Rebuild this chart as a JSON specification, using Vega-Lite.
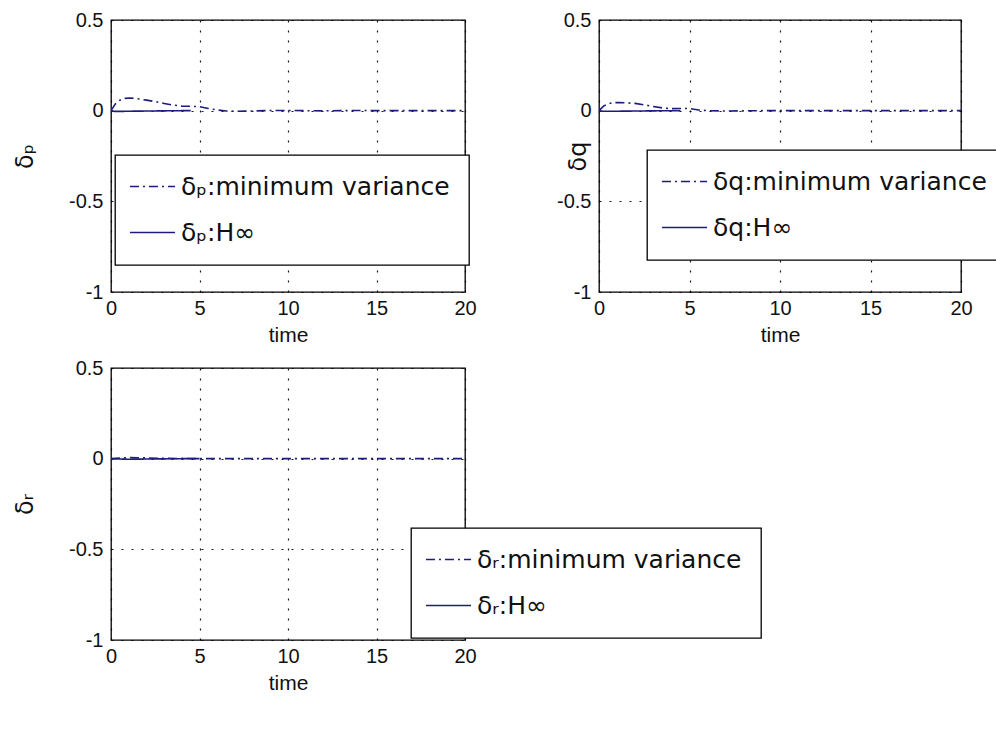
{
  "$schema": "https://vega.github.io/schema/vega-lite/v6.json",
  "background": "white",
  "padding": {"left": 12, "top": 9, "right": 0, "bottom": 0},
  "bounds": "flush",
  "columns": 2,
  "spacing": {"row": 76, "column": 134},
  "config": {
    "font": "DejaVu Sans",
    "view": {"stroke": "#000", "strokeWidth": 1.3},
    "axis": {
      "domain": false,
      "ticks": false,
      "grid": true,
      "gridColor": "#000",
      "gridDash": [2, 8],
      "gridWidth": 1.2,
      "gridOpacity": 0.9,
      "labelFont": "Liberation Sans",
      "labelFontSize": 20,
      "labelColor": "#111",
      "titleFontWeight": "normal",
      "titleColor": "#111"
    },
    "axisX": {"labelPadding": 6, "titlePadding": 6, "labelFlush": false, "titleFont": "Liberation Sans", "titleFontSize": 21},
    "axisY": {"labelPadding": 8, "labelFlush": false, "titleFont": "DejaVu Sans", "titleFontSize": 24},
    "legend": {
      "orient": "none",
      "direction": "vertical",
      "title": null,
      "strokeColor": "#000",
      "strokeWidth": 1.3,
      "fillColor": "white",
      "padding": 19,
      "symbolType": "M-4,0H4",
      "symbolSize": 127,
      "symbolStrokeWidth": 1.6,
      "symbolStrokeColor": "#1c1c7c",
      "symbolOffset": 6,
      "labelOffset": 16,
      "labelFont": "DejaVu Sans",
      "labelFontSize": 25,
      "labelColor": "#111",
      "labelLimit": 0,
      "rowPadding": 20
    }
  },
  "resolve": {"scale": {"strokeDash": "independent"}, "legend": {"strokeDash": "independent"}},
  "datasets": {
    "p": [
      {"t": 0, "v": 0, "s": "δₚ:minimum variance"},
      {"t": 0.25, "v": 0.038, "s": "δₚ:minimum variance"},
      {"t": 0.5, "v": 0.058, "s": "δₚ:minimum variance"},
      {"t": 0.8, "v": 0.068, "s": "δₚ:minimum variance"},
      {"t": 1.1, "v": 0.07, "s": "δₚ:minimum variance"},
      {"t": 1.5, "v": 0.066, "s": "δₚ:minimum variance"},
      {"t": 2.0, "v": 0.058, "s": "δₚ:minimum variance"},
      {"t": 2.5, "v": 0.05, "s": "δₚ:minimum variance"},
      {"t": 3.0, "v": 0.04, "s": "δₚ:minimum variance"},
      {"t": 3.5, "v": 0.031, "s": "δₚ:minimum variance"},
      {"t": 4.0, "v": 0.025, "s": "δₚ:minimum variance"},
      {"t": 4.5, "v": 0.024, "s": "δₚ:minimum variance"},
      {"t": 5.0, "v": 0.022, "s": "δₚ:minimum variance"},
      {"t": 5.5, "v": 0.012, "s": "δₚ:minimum variance"},
      {"t": 6.0, "v": 0.004, "s": "δₚ:minimum variance"},
      {"t": 6.5, "v": -0.002, "s": "δₚ:minimum variance"},
      {"t": 7, "v": -0.003, "s": "δₚ:minimum variance"},
      {"t": 8, "v": -0.002, "s": "δₚ:minimum variance"},
      {"t": 9, "v": 0.001, "s": "δₚ:minimum variance"},
      {"t": 10, "v": 0.001, "s": "δₚ:minimum variance"},
      {"t": 11, "v": 0, "s": "δₚ:minimum variance"},
      {"t": 12, "v": -0.001, "s": "δₚ:minimum variance"},
      {"t": 13, "v": 0, "s": "δₚ:minimum variance"},
      {"t": 14, "v": 0.001, "s": "δₚ:minimum variance"},
      {"t": 15, "v": 0, "s": "δₚ:minimum variance"},
      {"t": 16, "v": 0, "s": "δₚ:minimum variance"},
      {"t": 17, "v": 0, "s": "δₚ:minimum variance"},
      {"t": 18, "v": 0, "s": "δₚ:minimum variance"},
      {"t": 19, "v": 0, "s": "δₚ:minimum variance"},
      {"t": 20, "v": 0, "s": "δₚ:minimum variance"},
      {"t": 0, "v": 0, "s": "δₚ:H∞"},
      {"t": 0.2, "v": -0.004, "s": "δₚ:H∞"},
      {"t": 0.6, "v": -0.004, "s": "δₚ:H∞"},
      {"t": 1, "v": -0.003, "s": "δₚ:H∞"},
      {"t": 2, "v": -0.002, "s": "δₚ:H∞"},
      {"t": 3, "v": -0.001, "s": "δₚ:H∞"},
      {"t": 4, "v": 0, "s": "δₚ:H∞"},
      {"t": 4.5, "v": 0, "s": "δₚ:H∞"}
    ],
    "q": [
      {"t": 0, "v": 0, "s": "δq:minimum variance"},
      {"t": 0.25, "v": 0.025, "s": "δq:minimum variance"},
      {"t": 0.5, "v": 0.038, "s": "δq:minimum variance"},
      {"t": 0.8, "v": 0.044, "s": "δq:minimum variance"},
      {"t": 1.1, "v": 0.045, "s": "δq:minimum variance"},
      {"t": 1.5, "v": 0.043, "s": "δq:minimum variance"},
      {"t": 2.0, "v": 0.04, "s": "δq:minimum variance"},
      {"t": 2.5, "v": 0.032, "s": "δq:minimum variance"},
      {"t": 3.0, "v": 0.023, "s": "δq:minimum variance"},
      {"t": 3.5, "v": 0.015, "s": "δq:minimum variance"},
      {"t": 4.0, "v": 0.011, "s": "δq:minimum variance"},
      {"t": 4.5, "v": 0.012, "s": "δq:minimum variance"},
      {"t": 5.0, "v": 0.012, "s": "δq:minimum variance"},
      {"t": 5.5, "v": 0.004, "s": "δq:minimum variance"},
      {"t": 6, "v": 0, "s": "δq:minimum variance"},
      {"t": 7, "v": -0.002, "s": "δq:minimum variance"},
      {"t": 8, "v": -0.001, "s": "δq:minimum variance"},
      {"t": 9, "v": 0, "s": "δq:minimum variance"},
      {"t": 10, "v": 0, "s": "δq:minimum variance"},
      {"t": 12, "v": 0, "s": "δq:minimum variance"},
      {"t": 14, "v": 0, "s": "δq:minimum variance"},
      {"t": 16, "v": 0, "s": "δq:minimum variance"},
      {"t": 18, "v": 0, "s": "δq:minimum variance"},
      {"t": 20, "v": 0, "s": "δq:minimum variance"},
      {"t": 0, "v": 0, "s": "δq:H∞"},
      {"t": 0.2, "v": -0.003, "s": "δq:H∞"},
      {"t": 1, "v": -0.003, "s": "δq:H∞"},
      {"t": 2, "v": -0.002, "s": "δq:H∞"},
      {"t": 3, "v": -0.001, "s": "δq:H∞"},
      {"t": 4.5, "v": 0, "s": "δq:H∞"}
    ],
    "r": [
      {"t": 0, "v": 0, "s": "δᵣ:minimum variance"},
      {"t": 0.5, "v": 0.004, "s": "δᵣ:minimum variance"},
      {"t": 1, "v": 0.006, "s": "δᵣ:minimum variance"},
      {"t": 1.5, "v": 0.005, "s": "δᵣ:minimum variance"},
      {"t": 2, "v": 0.004, "s": "δᵣ:minimum variance"},
      {"t": 3, "v": 0.002, "s": "δᵣ:minimum variance"},
      {"t": 4, "v": 0.001, "s": "δᵣ:minimum variance"},
      {"t": 5, "v": 0, "s": "δᵣ:minimum variance"},
      {"t": 6, "v": 0, "s": "δᵣ:minimum variance"},
      {"t": 8, "v": 0, "s": "δᵣ:minimum variance"},
      {"t": 10, "v": 0, "s": "δᵣ:minimum variance"},
      {"t": 12, "v": 0, "s": "δᵣ:minimum variance"},
      {"t": 14, "v": 0, "s": "δᵣ:minimum variance"},
      {"t": 16, "v": 0, "s": "δᵣ:minimum variance"},
      {"t": 18, "v": 0, "s": "δᵣ:minimum variance"},
      {"t": 20, "v": 0, "s": "δᵣ:minimum variance"},
      {"t": 0, "v": 0, "s": "δᵣ:H∞"},
      {"t": 0.5, "v": -0.002, "s": "δᵣ:H∞"},
      {"t": 1, "v": -0.003, "s": "δᵣ:H∞"},
      {"t": 2, "v": -0.002, "s": "δᵣ:H∞"},
      {"t": 3, "v": -0.001, "s": "δᵣ:H∞"},
      {"t": 4, "v": 0, "s": "δᵣ:H∞"},
      {"t": 5, "v": 0, "s": "δᵣ:H∞"}
    ]
  },
  "concat": [
    {
      "width": 354,
      "height": 272,
      "data": {"name": "p"},
      "mark": {"type": "line", "color": "#1c1c7c", "strokeWidth": 1.6, "clip": true},
      "encoding": {
        "x": {"field": "t", "type": "quantitative", "scale": {"domain": [0, 20], "nice": false}, "axis": {"values": [0, 5, 10, 15, 20], "title": "time"}},
        "y": {"field": "v", "type": "quantitative", "scale": {"domain": [-1, 0.5], "nice": false, "zero": false}, "axis": {"values": [-1, -0.5, 0, 0.5], "labelExpr": "'' + datum.value", "title": "δₚ", "titleX": -74}},
        "strokeDash": {"field": "s", "type": "nominal", "sort": null, "scale": {"domain": ["δₚ:minimum variance", "δₚ:H∞"], "range": [[9, 4, 2, 4], [1, 0]]}, "legend": {"legendX": 4, "legendY": 135}}
      }
    },
    {
      "width": 362,
      "height": 272,
      "data": {"name": "q"},
      "mark": {"type": "line", "color": "#1c1c7c", "strokeWidth": 1.6, "clip": true},
      "encoding": {
        "x": {"field": "t", "type": "quantitative", "scale": {"domain": [0, 20], "nice": false}, "axis": {"values": [0, 5, 10, 15, 20], "title": "time"}},
        "y": {"field": "v", "type": "quantitative", "scale": {"domain": [-1, 0.5], "nice": false, "zero": false}, "axis": {"values": [-1, -0.5, 0, 0.5], "labelExpr": "'' + datum.value", "title": "δq", "titleX": -9}},
        "strokeDash": {"field": "s", "type": "nominal", "sort": null, "scale": {"domain": ["δq:minimum variance", "δq:H∞"], "range": [[9, 4, 2, 4], [1, 0]]}, "legend": {"legendX": 48, "legendY": 130}}
      }
    },
    {
      "width": 354,
      "height": 272,
      "data": {"name": "r"},
      "mark": {"type": "line", "color": "#1c1c7c", "strokeWidth": 1.6, "clip": true},
      "encoding": {
        "x": {"field": "t", "type": "quantitative", "scale": {"domain": [0, 20], "nice": false}, "axis": {"values": [0, 5, 10, 15, 20], "title": "time"}},
        "y": {"field": "v", "type": "quantitative", "scale": {"domain": [-1, 0.5], "nice": false, "zero": false}, "axis": {"values": [-1, -0.5, 0, 0.5], "labelExpr": "'' + datum.value", "title": "δᵣ", "titleX": -74}},
        "strokeDash": {"field": "s", "type": "nominal", "sort": null, "scale": {"domain": ["δᵣ:minimum variance", "δᵣ:H∞"], "range": [[9, 4, 2, 4], [1, 0]]}, "legend": {"legendX": 300, "legendY": 160}}
      }
    }
  ]
}
